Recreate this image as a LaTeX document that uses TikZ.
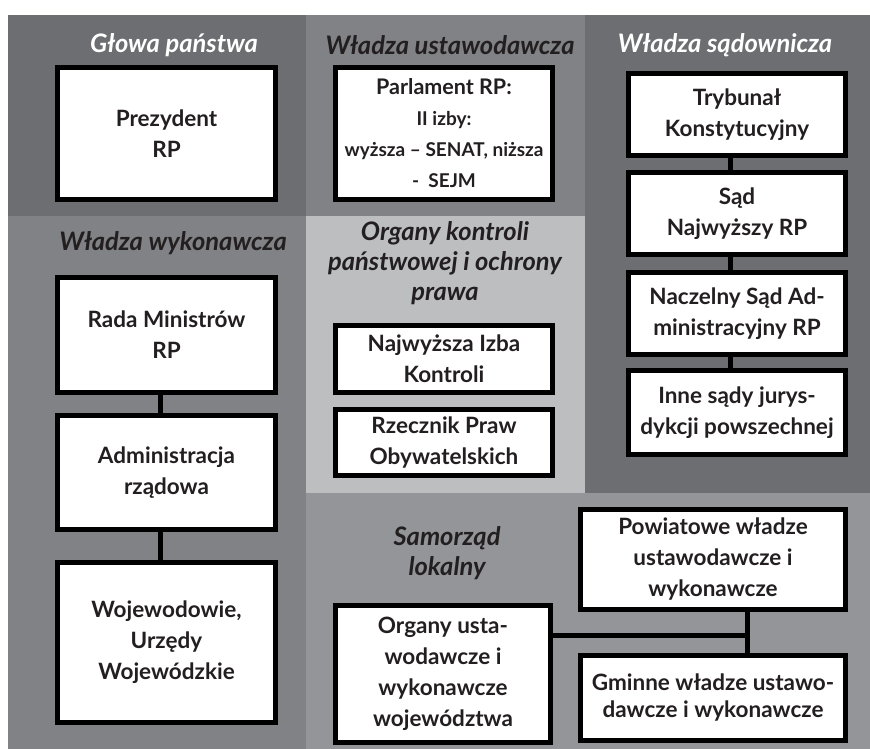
\documentclass[tikz,border=0pt]{standalone}
\usepackage{fontspec}
\setmainfont{Lato}
\definecolor{ciemny}{HTML}{6D6E71}
\definecolor{sredni}{HTML}{808285}
\definecolor{jasny}{HTML}{BCBEC0}
\definecolor{dolny}{HTML}{939598}
\definecolor{tekst}{HTML}{231F20}
\newcommand{\duza}{\fontsize{21.5}{24}\selectfont}
\newcommand{\mala}{\fontsize{19}{24.5}\selectfont}
\begin{document}
\begin{tikzpicture}[x=1pt,y=-1pt,
  box/.style={draw=black,line width=5pt,fill=white,text=tekst,align=center,inner sep=0pt,
    font=\bfseries\fontsize{22.5}{31}\selectfont},
  tytul/.style={text=tekst,align=center,font=\bfseries\itshape\fontsize{25.5}{30}\selectfont},
  link/.style={line width=5pt}]
\useasboundingbox (0,0) rectangle (870,749);
\fill[white] (0,0) rectangle (870,749);
\fill[ciemny] (8,15) rectangle (306,216);
\fill[sredni] (306,15) rectangle (585,216);
\fill[ciemny] (585,15) rectangle (870,493);
\fill[sredni] (8,216) rectangle (306,749);
\fill[jasny] (306,216) rectangle (585,493);
\fill[dolny] (306,493) rectangle (870,749);

\node[tytul,text=white] (glowa) at (174,45) {Głowa państwa};
\node[tytul] (ustaw) at (450,45) {Władza ustawodawcza};
\node[tytul,text=white] (sadow) at (725,45) {Władza sądownicza};
\node[tytul] (wykon) at (173,243) {Władza wykonawcza};
\node[tytul] (kontr) at (445,263) {Organy kontroli\\państwowej i ochrony\\prawa};
\node[tytul] (samo) at (447,553) {Samorząd\\lokalny};

\node[box,minimum width=218,minimum height=132] (prez) at (166.5,133.5) {Prezydent\\RP};
\node[box,minimum width=217,minimum height=132] (parl) at (444,133.5)
  {\duza Parlament RP:\\\mala II izby:\\\mala wyższa – SENAT, niższa\\\mala -\ \ SEJM};

\node[box,minimum width=217,minimum height=82] (tryb) at (737,114.5) {Trybunał\\Konstytucyjny};
\node[box,minimum width=217,minimum height=82] (sn) at (737,213.5) {Sąd\\Najwyższy RP};
\node[box,minimum width=217,minimum height=82] (nsa) at (737,313.5) {Naczelny Sąd Ad-\\ministracyjny RP};
\node[box,minimum width=217,minimum height=84] (inne) at (737,412.5) {Inne sądy jurys-\\dykcji powszechnej};
\foreach \a/\b in {tryb/sn,sn/nsa,nsa/inne}
  \draw[link] ([xshift=-7]\a.south) -- ([xshift=-7]\b.north);

\node[box,minimum width=218,minimum height=115] (rada) at (166.5,335) {Rada Ministrów\\RP};
\node[box,minimum width=218,minimum height=114] (adm) at (166.5,472.5) {Administracja\\rządowa};
\node[box,minimum width=218,minimum height=160] (woj) at (166.5,642.5) {Wojewodowie,\\Urzędy\\Wojewódzkie};
\foreach \a/\b in {rada/adm,adm/woj}
  \draw[link] ([xshift=-6]\a.south) -- ([xshift=-6]\b.north);

\node[box,minimum width=217,minimum height=67] (nik) at (444,359) {Najwyższa Izba\\Kontroli};
\node[box,minimum width=217,minimum height=66] (rpo) at (444,442.5) {Rzecznik Praw\\Obywatelskich};

\node[box,minimum width=215,minimum height=137] (org) at (443,674) {Organy usta-\\wodawcze i\\wykonawcze\\województwa};
\node[box,minimum width=265,minimum height=100] (pow) at (713,559.5) {Powiatowe władze\\ustawodawcze i\\wykonawcze};
\node[box,minimum width=265,minimum height=85,font=\bfseries\fontsize{22.5}{27}\selectfont] (gmi) at (713,698)
  {Gminne władze ustawo-\\dawcze i wykonawcze};
\coordinate (wez) at (747,635);
\draw[link] (pow.south -| wez) -- (gmi.north -| wez);
\draw[link] (org.east |- wez) -- (wez);
\end{tikzpicture}
\end{document}
